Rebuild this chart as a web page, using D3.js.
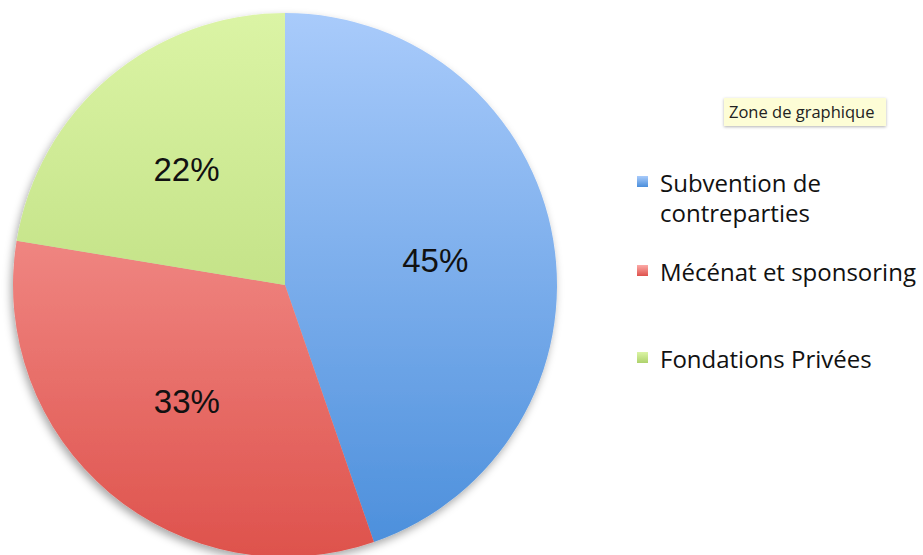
<!DOCTYPE html>
<html><head><meta charset="utf-8">
<script src="https://cdn.jsdelivr.net/npm/d3@7"></script>
<style>body{margin:0;background:#fff;}svg{display:block;}</style>
</head><body>
<svg id="c" width="923" height="555"></svg>
<script>
const categories = ["Subvention de contreparties", "Mécénat et sponsoring", "Fondations Privées"];
const legendLines = [["Subvention de", "contreparties"], ["Mécénat et sponsoring"], ["Fondations Privées"]];
const values = [44.7, 32.9, 22.4];
const labels = ["45%", "33%", "22%"];
const topColors = ["#a9cbfb", "#fcaaa7", "#dbf4a5"];
const bottomColors = ["#4a8edb", "#de524c", "#aed26c"];

const svg = d3.select("#c");
const cx = 285, cy = 285, R = 272;
const defs = svg.append("defs");
const f = defs.append("filter").attr("id","sh").attr("x","-10%").attr("y","-10%").attr("width","120%").attr("height","120%");
f.append("feDropShadow").attr("dx",-2).attr("dy",4).attr("stdDeviation",4).attr("flood-color","#000").attr("flood-opacity",0.35);
categories.forEach((c,i)=>{
  const g = defs.append("linearGradient").attr("id","g"+i).attr("gradientUnits","userSpaceOnUse")
    .attr("x1",0).attr("y1",-R).attr("x2",0).attr("y2",R);
  g.append("stop").attr("offset","0%").attr("stop-color",topColors[i]);
  g.append("stop").attr("offset","100%").attr("stop-color",bottomColors[i]);
  const lgr = defs.append("linearGradient").attr("id","lg"+i).attr("x1",0).attr("y1",0).attr("x2",0).attr("y2",1);
  lgr.append("stop").attr("offset","0%").attr("stop-color",topColors[i]);
  lgr.append("stop").attr("offset","100%").attr("stop-color",bottomColors[i]);
});
const pie = d3.pie().sort(null).value(d=>d)(values);
const arc = d3.arc().innerRadius(0).outerRadius(R);
const gp = svg.append("g").attr("transform",`translate(${cx},${cy})`);
gp.append("g").attr("filter","url(#sh)").selectAll("path").data(pie).join("path")
  .attr("d",arc).attr("fill",(d,i)=>`url(#g${i})`);
const labelArc = d3.arc().innerRadius(R*0.56).outerRadius(R*0.56);
gp.selectAll("text").data(pie).join("text")
  .attr("x",d=>labelArc.centroid(d)[0]).attr("y",d=>labelArc.centroid(d)[1]+12)
  .attr("text-anchor","middle").attr("font-family","Liberation Sans, Arial, sans-serif")
  .attr("font-size",33).attr("fill","#111").text((d,i)=>labels[i]);

// legend
const legY = [181, 270, 357];
const lg = svg.append("g");
categories.forEach((c,i)=>{
  lg.append("rect").attr("x",637).attr("y",legY[i]-5).attr("width",11).attr("height",11)
    .attr("fill",`url(#lg${i})`);
  const t = lg.append("text").attr("x",660).attr("y",legY[i]+11)
    .attr("font-family","Open Sans, sans-serif").attr("font-size",24).attr("fill","#111");
  legendLines[i].forEach((l,j)=>t.append("tspan").attr("x",660).attr("dy",j?30:0).text(l));
});

// tooltip
const tt = svg.append("g");
const tf = defs.append("filter").attr("id","tsh").attr("x","-20%").attr("y","-40%").attr("width","140%").attr("height","180%");
tf.append("feDropShadow").attr("dx",0).attr("dy",1).attr("stdDeviation",1.5).attr("flood-color","#000").attr("flood-opacity",0.3);
tt.append("rect").attr("x",724).attr("y",98).attr("width",162).attr("height",28).attr("fill","#fdfdd6").attr("filter","url(#tsh)");
tt.append("text").attr("x",729).attr("y",118).attr("font-family","Open Sans, sans-serif").attr("font-size",16.5).attr("fill","#222").text("Zone de graphique");
</script>
</body></html>
